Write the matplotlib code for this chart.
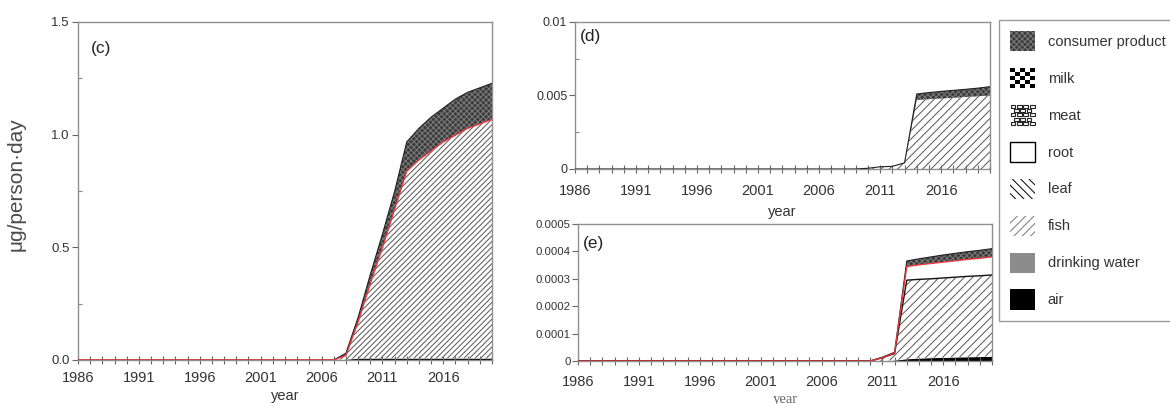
import numpy as np
import matplotlib
matplotlib.use("Agg")
import matplotlib.pyplot as plt
from matplotlib.patches import Patch, Rectangle
from matplotlib.legend_handler import HandlerBase
from matplotlib.ticker import FixedLocator, FixedFormatter, MultipleLocator

plt.rcParams['font.family'] = ['Liberation Sans', 'DejaVu Sans']
plt.rcParams['hatch.linewidth'] = 0.7

# ---------------- data ----------------
years = list(range(1986, 2021))

# panel (c)  (layer thicknesses, µg/person·day)
air_c      = [0]*22 + [0.003, 0.008, 0.008, 0.008, 0.008, 0.008, 0.008, 0.008, 0.008, 0.008, 0.008, 0.008, 0.008]
fish_c     = [0]*22 + [0.017, 0.16, 0.33, 0.49, 0.66, 0.83, 0.88, 0.92, 0.96, 0.99, 1.02, 1.04, 1.06]
consumer_c = [0]*22 + [0.010, 0.02, 0.04, 0.06, 0.08, 0.13, 0.14, 0.15, 0.15, 0.16, 0.16, 0.16, 0.16]

# panel (d)
fish_d     = [0]*24 + [0.00005, 0.00015, 0.00018, 0.0004, 0.0047, 0.00475, 0.0048, 0.00485, 0.0049, 0.00495, 0.0050]
consumer_d = [0]*24 + [0.0, 0.0, 0.0, 0.00002, 0.0004, 0.00045, 0.00048, 0.0005, 0.00052, 0.00055, 0.0006]

# panel (e)
air_e      = [0]*26 + [0.000003, 0.000008, 0.00001, 0.000012, 0.000013, 0.000014, 0.000015, 0.000016, 0.000017]
fish_e     = [0]*24 + [0.0, 0.000012, 0.000024, 0.000287, 0.000288, 0.000288, 0.00029, 0.000292, 0.000294, 0.000295, 0.000297]
root_e     = [0]*26 + [0.000002, 0.00005, 0.000053, 0.000056, 0.000058, 0.00006, 0.000062, 0.000064, 0.000066]
consumer_e = [0]*24 + [0.0, 0.000002, 0.000003, 0.00002, 0.000022, 0.000024, 0.000026, 0.000027, 0.000028, 0.000029, 0.00003]

xmajor = [1986, 1991, 1996, 2001, 2006, 2011, 2016]
yticks_c = [0.0, 0.5, 1.0, 1.5]
ylabels_c = ['0.0', '0.5', '1.0', '1.5']
yticks_d = [0, 0.005, 0.01]
ylabels_d = ['0', '0.005', '0.01']
yticks_e = [0, 0.0001, 0.0002, 0.0003, 0.0004, 0.0005]
ylabels_e = ['0', '0.0001', '0.0002', '0.0003', '0.0004', '0.0005']

legend_labels = ['consumer product', 'milk', 'meat', 'root', 'leaf', 'fish', 'drinking water', 'air']

# ---------------- styles ----------------
STY = {
    'air':      dict(facecolor='black', edgecolor='black', hatch=None),
    'water':    dict(facecolor='#8c8c8c', edgecolor='#8c8c8c', hatch=None),
    'fish':     dict(facecolor='white', edgecolor='#555555', hatch='//////'),
    'fish2':    dict(facecolor='white', edgecolor='#555555', hatch='////'),
    'fishleg':  dict(facecolor='white', edgecolor='#777777', hatch='////'),
    'leaf':     dict(facecolor='white', edgecolor='black', hatch='\\\\\\\\'),
    'root':     dict(facecolor='white', edgecolor='black', hatch=None),
    'meat':     dict(facecolor='white', edgecolor='#333333', hatch=None),
    'milk':     dict(facecolor='white', edgecolor='black', hatch=None),
    'consumer': dict(facecolor='#3a3a3a', edgecolor='#7c7c7c', hatch='xxxxxx'),
}

W, H = 1170, 404
fig = plt.figure(figsize=(W/100, H/100), dpi=100)

def box(l, t, r, b):
    return [l/W, 1-b/H, (r-l)/W, (b-t)/H]

ax_c = fig.add_axes(box(78, 22, 492, 360))
ax_d = fig.add_axes(box(575, 22, 990, 169))
ax_e = fig.add_axes(box(578, 224, 992, 361))

SPINE = '#8f8f8f'

def style_axes(ax, yt, yl, ymax, yminor=None, xpad=4, ysize=9.5, ypad=2):
    ax.set_xlim(1986, 2020)
    ax.set_ylim(0, ymax)
    for s in ax.spines.values():
        s.set_color(SPINE)
        s.set_linewidth(1.0)
    ax.xaxis.set_major_locator(FixedLocator(xmajor))
    ax.xaxis.set_minor_locator(MultipleLocator(1))
    ax.yaxis.set_major_locator(FixedLocator(yt))
    ax.yaxis.set_major_formatter(FixedFormatter(yl))
    if yminor is not None:
        ax.yaxis.set_minor_locator(FixedLocator(yminor))
    ax.tick_params(axis='x', which='both', direction='inout', length=6, width=0.8,
                   color='#666666', labelsize=10.5, labelcolor='#333333', pad=xpad)
    ax.tick_params(axis='y', which='major', direction='out', length=4, width=0.8,
                   color='#666666', labelsize=ysize, labelcolor='#333333', pad=ypad)
    ax.tick_params(axis='y', which='minor', direction='in', length=3, width=0.8, color='#888888')

def draw_stack(ax, layers, red_upto=None, outline_fish=False):
    x = np.array(years)
    vals = [np.array(v, dtype=float) for _, v in layers]
    polys = ax.stackplot(x, *vals, linewidth=0)
    for poly, (key, _) in zip(polys, layers):
        s = STY[key]
        poly.set_facecolor(s['facecolor'])
        poly.set_edgecolor(s['edgecolor'])
        if s['hatch']:
            poly.set_hatch(s['hatch'])
        poly.set_linewidth(0)
    cum = np.cumsum(vals, axis=0)
    ax.plot(x, cum[-1], color='#222222', lw=0.8, zorder=3)
    if outline_fish:
        ax.plot(x, cum[1], color='#111111', lw=1.0, zorder=3)
    if red_upto is not None:
        ax.plot(x, cum[red_upto], color='#e8383d', lw=1.0, zorder=4)

style_axes(ax_c, yticks_c, ylabels_c, 1.5, yminor=[0.25, 0.75, 1.25], xpad=5)
draw_stack(ax_c, [('air', air_c), ('fish', fish_c), ('consumer', consumer_c)], red_upto=1)

style_axes(ax_d, yticks_d, ylabels_d, 0.01, yminor=[0.0025, 0.0075], xpad=8, ysize=9, ypad=1.5)
draw_stack(ax_d, [('fish2', fish_d), ('consumer', consumer_d)])

style_axes(ax_e, yticks_e, ylabels_e, 0.0005, xpad=7, ysize=8.2, ypad=1.2)
draw_stack(ax_e, [('air', air_e), ('fish2', fish_e), ('root', root_e), ('consumer', consumer_e)],
           red_upto=2, outline_fish=True)

# panel tags
ax_c.text(0.031, 0.923, '(c)', transform=ax_c.transAxes, fontsize=12.5, va='center', ha='left', color='#222222')
ax_d.text(0.012, 0.90, '(d)', transform=ax_d.transAxes, fontsize=12.5, va='center', ha='left', color='#222222')
ax_e.text(0.012, 0.858, '(e)', transform=ax_e.transAxes, fontsize=12.5, va='center', ha='left', color='#222222')

ax_c.set_xlabel('year', fontsize=10.5, color='#333333', labelpad=3)
ax_d.set_xlabel('year', fontsize=10.5, color='#333333', labelpad=5)
ax_e.set_xlabel('year', fontsize=10.5, color='#666666', labelpad=3,
                family=['Liberation Serif', 'DejaVu Serif'])

fig.text(16/W, 1-184/H, 'μg/person·day', rotation=90, ha='center', va='center',
         fontsize=15, color='#4a4a4a')

# ---------------- legend ----------------
class CheckerHandler(HandlerBase):
    def create_artists(self, legend, orig_handle, xdescent, ydescent, width, height, fontsize, trans):
        n = 5
        w, h = width / n, height / n
        arts = [Rectangle((-xdescent, -ydescent), width, height, facecolor='white',
                          edgecolor='none', transform=trans)]
        for i in range(n):
            for j in range(n):
                if (i + j) % 2 == 0:
                    arts.append(Rectangle((-xdescent + i*w, -ydescent + j*h), w, h,
                                          facecolor='black', edgecolor='none', transform=trans))
        return arts

class BrickHandler(HandlerBase):
    def create_artists(self, legend, orig_handle, xdescent, ydescent, width, height, fontsize, trans):
        nr, nc = 5, 4
        w, h = width / nc, height / nr
        arts = []
        for j in range(nr):
            off = 0 if j % 2 == 0 else w / 2
            for i in range(nc):
                x0 = -xdescent + i*w + off
                if x0 + w * 0.8 > -xdescent + width + 0.1:
                    continue
                arts.append(Rectangle((x0 + w*0.1, -ydescent + j*h + h*0.1), w*0.75, h*0.75,
                                      facecolor='white', edgecolor='#222222', linewidth=0.8,
                                      transform=trans))
        return arts

leg_keys = ['consumer', 'milk', 'meat', 'root', 'leaf', 'fishleg', 'water', 'air']
handles = []
for k in leg_keys:
    s = STY[k]
    lw = 1.0 if k == 'root' else 0
    handles.append(Patch(facecolor=s['facecolor'], edgecolor=s['edgecolor'],
                         hatch=s['hatch'], linewidth=lw))
hmap = {handles[1]: CheckerHandler(), handles[2]: BrickHandler()}
leg = fig.legend(handles, legend_labels, loc='upper left', handler_map=hmap,
                 bbox_to_anchor=(999/W, 1-20/H), bbox_transform=fig.transFigure,
                 fontsize=10.5, handlelength=1.75, handleheight=1.75,
                 labelspacing=1.15, handletextpad=0.85, borderpad=0.75,
                 borderaxespad=0, fancybox=False, framealpha=1, edgecolor='#999999')
leg.get_frame().set_linewidth(1.0)
for t in leg.get_texts():
    t.set_color('#333333')

fig.savefig('out.png', dpi=100)
